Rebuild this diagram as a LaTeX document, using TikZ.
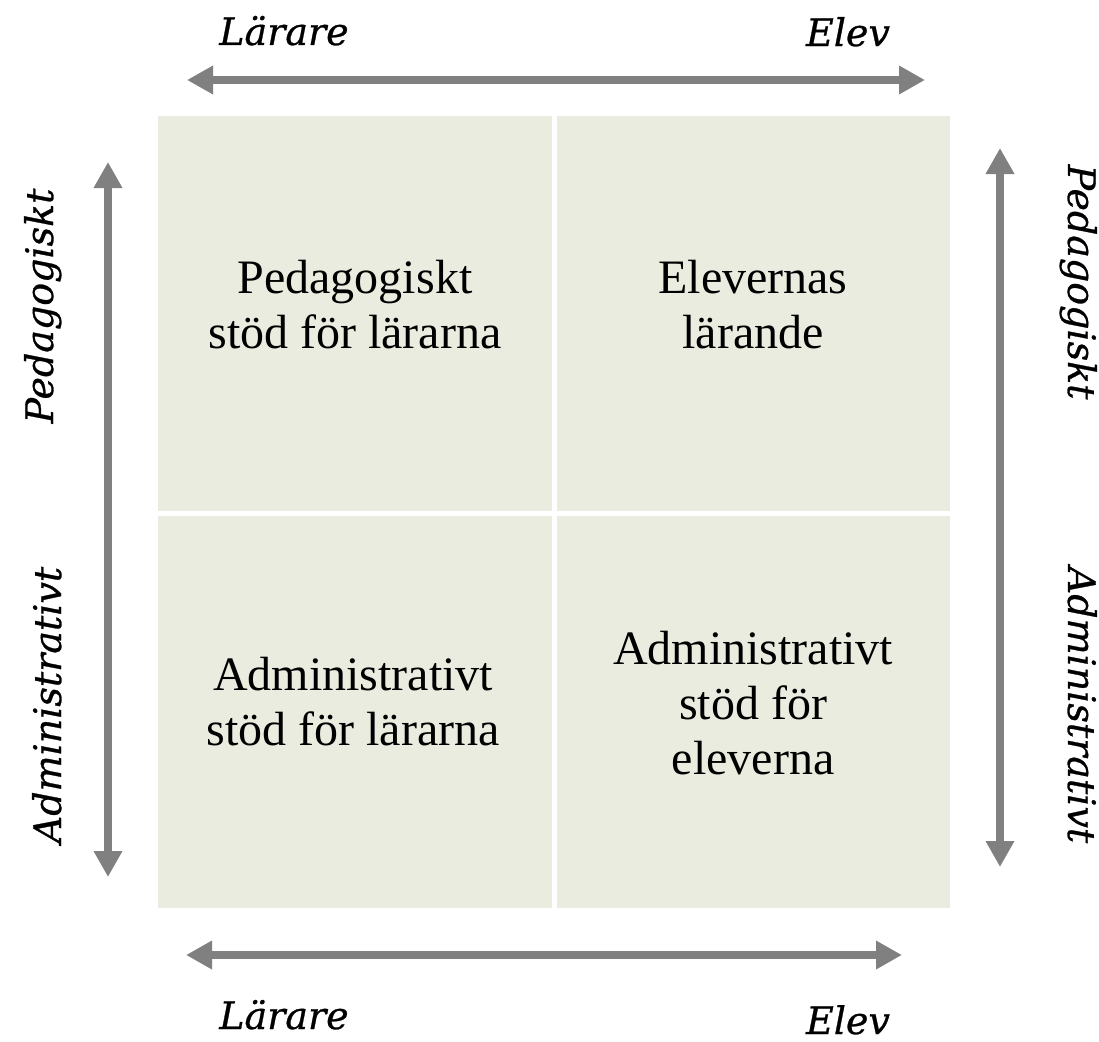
\documentclass[tikz,border=0pt]{standalone}
\usepackage{fontspec}
\setmainfont{Liberation Serif}
\newfontfamily\labfont[ItalicFeatures={FakeBold=0.7}]{DejaVu Serif}
\usetikzlibrary{arrows.meta}
\definecolor{cellfill}{RGB}{233,236,222}
\definecolor{axisgray}{RGB}{128,128,128}
\tikzset{
  cellbox/.style={draw=none, fill=cellfill},
  celltext/.style={align=center, inner sep=0pt, font=\fontsize{48}{55}\selectfont},
  axislabel/.style={inner sep=0pt, anchor=base, font=\labfont\itshape\fontsize{38}{46}\selectfont},
  axisarrow/.style={draw=axisgray, line width=8pt, {Triangle[length=26pt,width=27pt]}-{Triangle[length=26pt,width=27pt]}}
}
\begin{document}
\begin{tikzpicture}[x=1pt,y=-1pt]
\useasboundingbox (0,0) rectangle (1099,1041);
% cells
\path[cellbox] (158,116) rectangle (552,511) coordinate (c1);
\path[cellbox] (557,116) rectangle (950,511) coordinate (c2);
\path[cellbox] (158,516) rectangle (552,908) coordinate (c3);
\path[cellbox] (557,516) rectangle (950,908) coordinate (c4);
% cell texts
\node[celltext] (tl) at (355,305) {Pedagogiskt\\stöd för lärarna};
\node[celltext] (tr) at (753,305) {Elevernas\\lärande};
\node[celltext] (bl) at (353,702) {Administrativt\\stöd för lärarna};
\node[celltext] (br) at (753,703) {Administrativt\\stöd för\\eleverna};
% arrow endpoints
\coordinate (topL) at (187,80);
\coordinate (topR) at (925,80);
\coordinate (botL) at (186,955);
\coordinate (botR) at (902,955);
\coordinate (lefT) at (108,162);
\coordinate (lefB) at (108,877);
\coordinate (rigT) at (1000,148);
\coordinate (rigB) at (1000,867);
\draw[axisarrow] (topL) -- (topR);
\draw[axisarrow] (botL) -- (botR);
\draw[axisarrow] (lefT) -- (lefB);
\draw[axisarrow] (rigT) -- (rigB);
% labels
\node[axislabel] (l1) at (284,45) {Lärare};
\node[axislabel] (l2) at (848,46) {Elev};
\node[axislabel] (l3) at (284,1029) {Lärare};
\node[axislabel] (l4) at (848,1034) {Elev};
\node[axislabel, rotate=90] (l5) at (53,306) {Pedagogiskt};
\node[axislabel, rotate=90] (l6) at (61,705) {Administrativt};
\node[axislabel, rotate=-90] (l7) at (1068,282) {Pedagogiskt};
\node[axislabel, rotate=-90] (l8) at (1068,705) {Administrativt};
\end{tikzpicture}
\end{document}
